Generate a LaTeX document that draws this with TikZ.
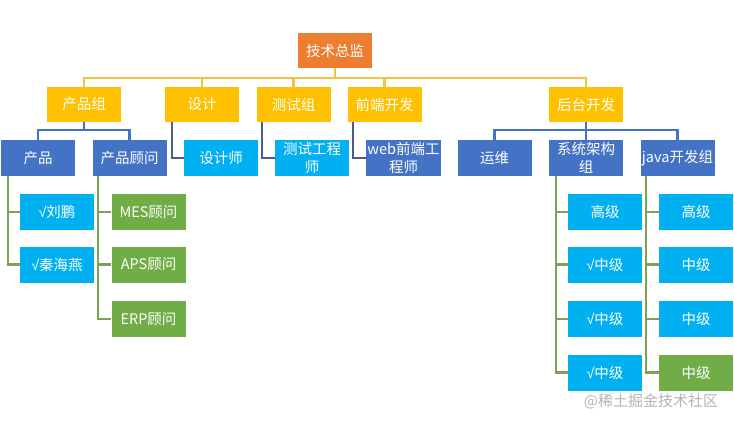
\documentclass[tikz,border=0pt]{standalone}
\usepackage{fontspec}
\newfontfamily\cjk{Noto Sans CJK SC}
\newfontfamily\chk{Liberation Sans}
\newcommand{\ck}{{\chk √}}
\usetikzlibrary{calc}
\definecolor{corange}{HTML}{ED7D31}
\definecolor{cyellow}{HTML}{FFC000}
\definecolor{cblue}{HTML}{4472C4}
\definecolor{ccyan}{HTML}{00B0F0}
\definecolor{cgreen}{HTML}{70AD47}
\definecolor{cslate}{HTML}{4F5D85}
\definecolor{cline}{HTML}{F2C443}
\definecolor{cgrn}{HTML}{7FA356}
\definecolor{cwm}{HTML}{B4B4B4}
\tikzset{
  box/.style={minimum width=74pt, minimum height=36pt, inner sep=1pt, text=white, align=center,
    font=\cjk\fontsize{14.5}{18}\selectfont},
  obox/.style={box, fill=corange, minimum height=35pt},
  ybox/.style={box, fill=cyellow, minimum height=35pt},
  bbox/.style={box, fill=cblue},
  cbox/.style={box, fill=ccyan},
  gbox/.style={box, fill=cgreen},
  yline/.style={draw=cline, line width=2.2pt},
  bline/.style={draw=cblue, line width=2.2pt},
  sline/.style={draw=cslate, line width=2.2pt},
  gline/.style={draw=cgrn, line width=2.2pt},
}
\begin{document}
\begin{tikzpicture}[x=1pt, y=-1pt]
\useasboundingbox[fill=white] (0,0) rectangle (734,423);
% top
\node[obox] (top) at (335,50.5) {技术总监};
% level 2
\node[ybox] (g1) at (84,104.5) {产品组};
\node[ybox] (g2) at (202,104.5) {设计};
\node[ybox] (g3) at (293.5,104.5) {测试组};
\node[ybox] (g4) at (384.5,104.5) {前端开发};
\node[ybox] (g5) at (586,104.5) {后台开发};
% level 3
\node[bbox] (p1) at (38,158) {产品};
\node[bbox] (p2) at (129.5,158) {产品顾问};
\node[cbox] (d1) at (221,158) {设计师};
\node[cbox] (t1) at (312,158) {测试工程\\师};
\node[bbox] (w1) at (403.5,158) {web前端工\\程师};
\node[bbox] (b1) at (494.5,158) {运维};
\node[bbox] (b2) at (586,158) {系统架构\\组};
\node[bbox] (b3) at (677.5,158) {java开发组};
% level 4
\node[cbox] (a1) at (57,212) {\ck 刘鹏};
\node[cbox] (a2) at (57,264.5) {\ck 秦海燕};
\node[gbox] (c1) at (148.5,212) {MES顾问};
\node[gbox] (c2) at (148.5,264.5) {APS顾问};
\node[gbox] (c3) at (148.5,319) {ERP顾问};
\node[cbox] (s1) at (605,212) {高级};
\node[cbox] (s2) at (605,264.5) {\ck 中级};
\node[cbox] (s3) at (605,319) {\ck 中级};
\node[cbox] (s4) at (605,372.5) {\ck 中级};
\node[cbox] (j1) at (696,212) {高级};
\node[cbox] (j2) at (696,264.5) {中级};
\node[cbox] (j3) at (696,319) {中级};
\node[gbox] (j4) at (696,372.5) {中级};
% watermark
\node[text=cwm, font=\cjk\fontsize{15}{17}\selectfont, inner sep=0pt] (wm) at (651,401) {@稀土掘金技术社区};
% connectors top
\foreach \g in {g1,g2,g3,g4,g5}
  \draw[yline] (top.south) -- ++(0,10) -| (\g.north);
% product group
\draw[bline] (g1.south) -- ++(0,8) -| (p1.north);
\draw[bline] (g1.south) -- ++(0,8) -| (p2.north);
% backend
\draw[bline] (g5.south) -- ++(0,8) -| (b1.north);
\draw[bline] (g5.south) -- ++(0,8) -| (b3.north);
\draw[bline] (g5.south) -- (b2.north);
% side connectors
\draw[sline] ($(g2.south west)+(7,0)$) |- (d1.west);
\draw[sline] ($(g3.south west)+(6,0)$) |- (t1.west);
\draw[sline] ($(g4.south west)+(6,0)$) |- (w1.west);
% green connectors
\foreach \n in {a1,a2}
  \draw[gline] ($(p1.south west)+(7,0)$) |- (\n.west);
\foreach \n in {c1,c2,c3}
  \draw[gline] ($(p2.south west)+(6,0)$) |- (\n.west);
\foreach \n in {s1,s2,s3,s4}
  \draw[gline] ($(b2.south west)+(7,0)$) |- (\n.west);
\foreach \n in {j1,j2,j3,j4}
  \draw[gline] ($(b3.south west)+(6,0)$) |- (\n.west);
\end{tikzpicture}
\end{document}
